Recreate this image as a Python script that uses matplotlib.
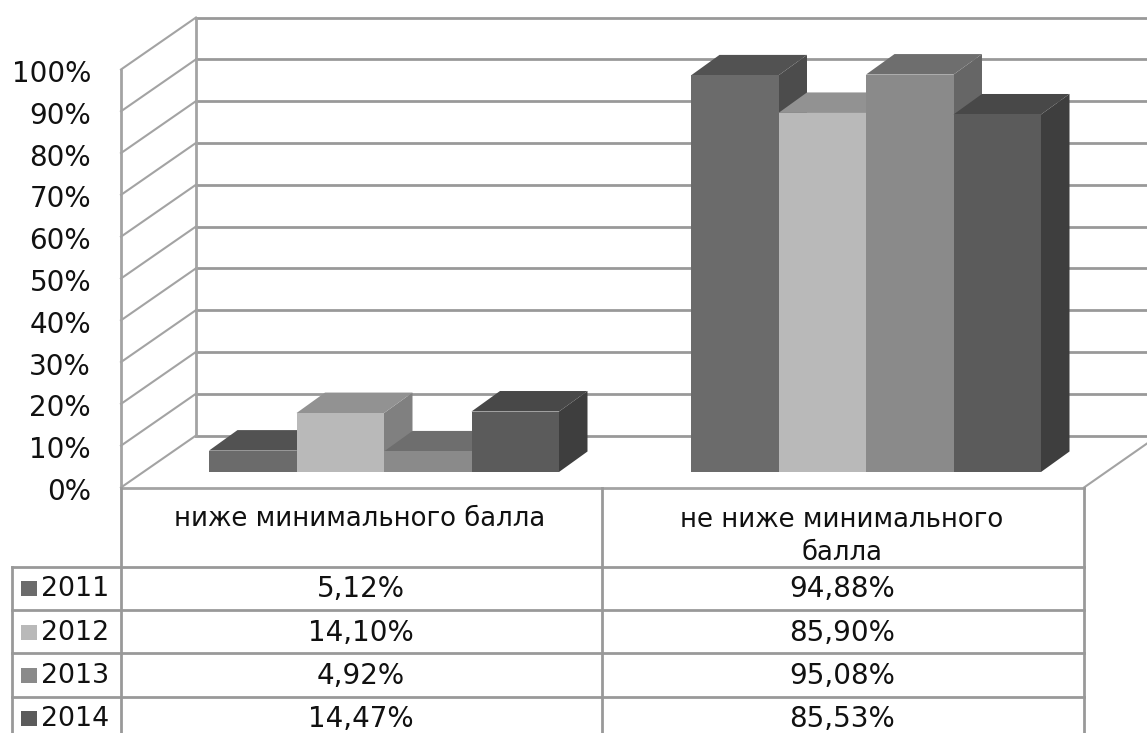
import matplotlib
matplotlib.use("Agg")
import matplotlib.pyplot as plt
from matplotlib.patches import Polygon, Rectangle

years = ["2011", "2012", "2013", "2014"]
categories = ["ниже минимального балла", "не ниже минимального", "балла"]
values_low = [5.12, 14.10, 4.92, 14.47]
values_high = [94.88, 85.90, 95.08, 85.53]
labels_low = ["5,12%", "14,10%", "4,92%", "14,47%"]
labels_high = ["94,88%", "85,90%", "95,08%", "85,53%"]
yticks = list(range(0, 101, 10))

front = ["#6b6b6b", "#b9b9b9", "#8a8a8a", "#5b5b5b"]
top = ["#525252", "#929292", "#6e6e6e", "#484848"]
side = ["#4c4c4c", "#808080", "#666666", "#3e3e3e"]
grid = "#a3a3a3"
tline = "#999999"
ink = "#111111"

W, H = 1147, 733
plt.rcParams["font.family"] = ["DejaVu Sans"]
fig = plt.figure(figsize=(W / 100, H / 100), dpi=100, facecolor="white")
ax = fig.add_axes([0, 0, 1, 1])
ax.set_xlim(0, W)
ax.set_ylim(H, 0)
ax.axis("off")

Y0, PX = 487.5, 4.18
def vy(v):
    return Y0 - v * PX

WDX, WDY = 75, -52
LEFT, RIGHT = 121, 1084
lw = 2

# walls and gridlines
for v in yticks:
    y = vy(v)
    ax.plot([LEFT, LEFT + WDX], [y, y + WDY], color=grid, lw=1.5, zorder=1)
    ax.plot([LEFT + WDX, 1147], [y + WDY, y + WDY], color=tline, lw=lw, zorder=1)
    ax.text(91, y + 4.5, f"{v}%", ha="right", va="center", fontsize=20, color=ink)
ax.plot([LEFT, LEFT], [vy(0), vy(100)], color=grid, lw=lw, zorder=1)
ax.plot([LEFT + WDX] * 2, [vy(0) + WDY, vy(100) + WDY], color=grid, lw=lw, zorder=1)
ax.plot([LEFT, RIGHT], [Y0, Y0], color=grid, lw=lw, zorder=1)
ax.plot([RIGHT, 1147], [Y0, Y0 - 44], color=grid, lw=1.5, zorder=1)

# 3D bars
BASE = 472
DX, DY = 28.5, -20.5
BW = 87.5
def bars(x0, vals):
    for i, v in enumerate(vals):
        l, r = x0 + i * BW, x0 + (i + 1) * BW
        t = BASE - v * PX
        z = 3 + i
        ax.add_patch(Polygon([(r, BASE), (r + DX, BASE + DY), (r + DX, t + DY), (r, t)], fc=side[i], ec="none", zorder=z))
        ax.add_patch(Polygon([(l, t), (l + DX, t + DY), (r + DX, t + DY), (r, t)], fc=top[i], ec="none", zorder=z))
        ax.add_patch(Rectangle((l, t), BW, BASE - t, fc=front[i], ec="none", zorder=z + 0.5))
bars(209, values_low)
bars(691, values_high)

# data table
MID = 602
row_lines = [567, 610, 653, 697]
row_text = [589, 633, 676, 719]
for x, y0 in [(LEFT, Y0), (MID, Y0), (RIGHT, Y0), (12, 567)]:
    ax.plot([x, x], [y0, 733], color=tline, lw=lw, zorder=2)
for y in row_lines:
    ax.plot([12, RIGHT], [y, y], color=tline, lw=lw, zorder=2)
ax.text(360, 519, categories[0], ha="center", va="center", fontsize=18.7, color=ink)
ax.text(842, 520, categories[1], ha="center", va="center", fontsize=18.7, color=ink)
ax.text(842, 553, categories[2], ha="center", va="center", fontsize=18.7, color=ink)
for i, yr in enumerate(years):
    yc = row_text[i]
    ax.add_patch(Rectangle((21, yc - 8), 16, 15, fc=front[i], ec="none", zorder=3))
    ax.text(41, yc, yr, ha="left", va="center", fontsize=19.3, color=ink)
    ax.text(361, yc, labels_low[i], ha="center", va="center", fontsize=20, color=ink)
    ax.text(842, yc, labels_high[i], ha="center", va="center", fontsize=20, color=ink)

fig.savefig("out.png", dpi=100, facecolor="white")
